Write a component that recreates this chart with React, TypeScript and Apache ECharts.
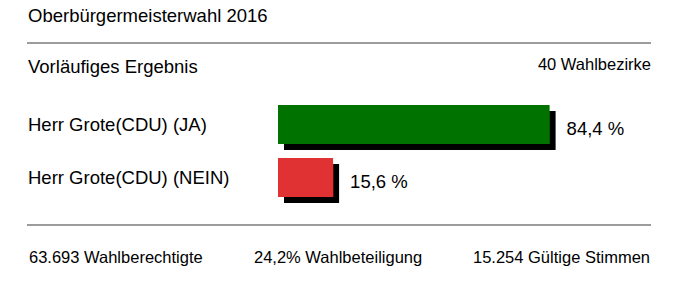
import React, { useEffect, useRef } from "react";
import * as echarts from "echarts";

const titleText = "Oberbürgermeisterwahl 2016";
const subtitleText = "Vorläufiges Ergebnis";
const districtsText = "40 Wahlbezirke";
const categories = ["Herr Grote(CDU) (JA)", "Herr Grote(CDU) (NEIN)"];
const values = [84.4, 15.6];
const barColors = ["#007200", "#e03333"];
const footerTexts = ["63.693 Wahlberechtigte", "24,2% Wahlbeteiligung", "15.254 Gültige Stimmen"];

const FONT = "Arial, 'Liberation Sans', Helvetica, sans-serif";

export default function App() {
  const ref = useRef<HTMLDivElement>(null);
  useEffect(() => {
    if (!ref.current) return;
    const chart = echarts.init(ref.current, undefined, { renderer: "svg" });
    const lineStyle = { stroke: "#9c9c9c", lineWidth: 2 };
    const big = 18.5;
    const small = 16.5;
    const pad = 3; // visual padding around each bar
    const barH = 39;
    chart.setOption({
      animation: false,
      backgroundColor: "#ffffff",
      grid: { left: 281, top: 98, width: 314.7, height: 106 },
      xAxis: { type: "value", min: 0, max: 100, show: false },
      yAxis: {
        type: "category",
        data: categories,
        inverse: true,
        axisLine: { show: false },
        axisTick: { show: false },
        splitLine: { show: false },
        axisLabel: {
          align: "left",
          margin: 253,
          fontSize: big,
          color: "#000",
          fontFamily: FONT,
          padding: [8, 0, 0, 0],
        },
      },
      series: [
        {
          type: "custom",
          clip: false,
          encode: { x: 0, y: 1 },
          data: values.map((v, i) => [v, i]),
          renderItem: (params: any, api: any) => {
            const v = api.value(0);
            const idx = api.value(1);
            const start = api.coord([0, idx]);
            const end = api.coord([v, idx]);
            const color = barColors[idx];
            return {
              type: "group",
              children: [
                {
                  type: "rect",
                  shape: {
                    x: start[0] - pad,
                    y: end[1] - barH / 2,
                    width: end[0] - start[0] + 2 * pad,
                    height: barH,
                  },
                  style: {
                    fill: color,
                    shadowColor: "#000",
                    shadowBlur: 0,
                    shadowOffsetX: 6,
                    shadowOffsetY: 6,
                  },
                },
                {
                  type: "text",
                  x: end[0] + pad + 17,
                  y: end[1] + 4,
                  style: {
                    text: v.toFixed(1).replace(".", ",") + " %",
                    fontSize: big,
                    fontFamily: FONT,
                    fill: "#000",
                    verticalAlign: "middle",
                  },
                },
              ],
            };
          },
        },
      ],
      graphic: [
        { type: "text", x: 28, y: 15, style: { text: titleText, fontSize: big, fontFamily: FONT, fill: "#000", verticalAlign: "middle" } },
        { type: "line", shape: { x1: 27, y1: 43, x2: 651, y2: 43 }, style: lineStyle },
        { type: "text", x: 28, y: 66, style: { text: subtitleText, fontSize: big, fontFamily: FONT, fill: "#000", verticalAlign: "middle" } },
        { type: "text", x: 651, y: 64, style: { text: districtsText, fontSize: small, fontFamily: FONT, fill: "#000", align: "right", verticalAlign: "middle" } },
        { type: "line", shape: { x1: 27, y1: 225, x2: 651, y2: 225 }, style: lineStyle },
        { type: "text", x: 29, y: 257, style: { text: footerTexts[0], fontSize: small, fontFamily: FONT, fill: "#000", verticalAlign: "middle" } },
        { type: "text", x: 254, y: 257, style: { text: footerTexts[1], fontSize: small, fontFamily: FONT, fill: "#000", verticalAlign: "middle" } },
        { type: "text", x: 650, y: 257, style: { text: footerTexts[2], fontSize: small, fontFamily: FONT, fill: "#000", align: "right", verticalAlign: "middle" } },
      ],
    });
    return () => chart.dispose();
  }, []);
  return <div ref={ref} style={{ position: "absolute", left: 0, top: 0, width: 693, height: 284 }} />;
}
